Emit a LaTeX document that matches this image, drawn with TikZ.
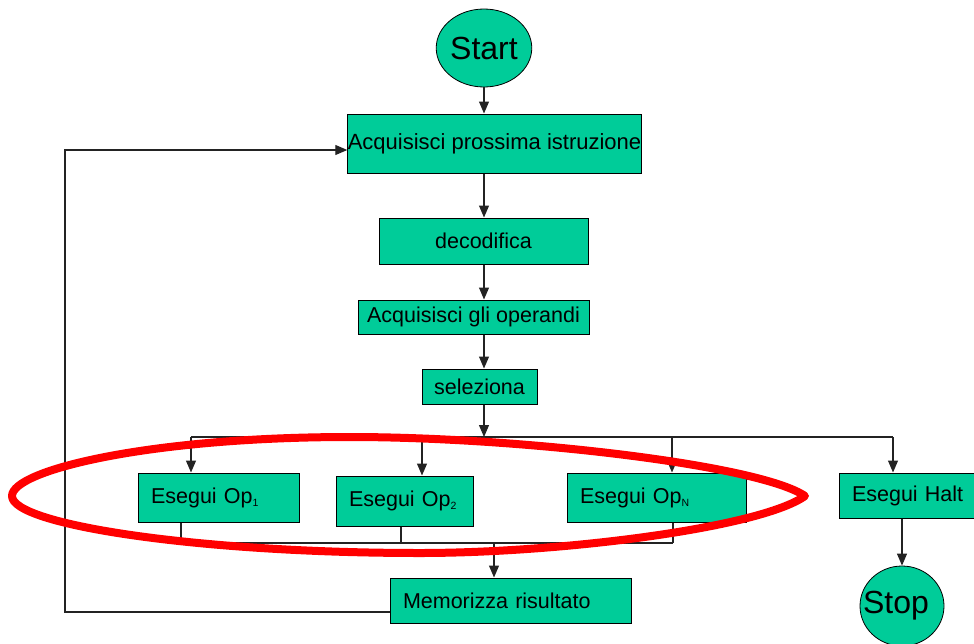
\documentclass[tikz,border=0pt]{standalone}
\usepackage{fontspec}
\setmainfont{Liberation Sans}
\usetikzlibrary{arrows.meta,shapes.geometric}
\definecolor{boxgreen}{RGB}{0,204,153}
\definecolor{linegray}{RGB}{35,35,35}
\newcommand{\opsub}[1]{\raisebox{-3pt}{\fontsize{10.5}{10.5}\selectfont #1}}
\begin{document}
\begin{tikzpicture}[x=1pt,y=-1pt,
  stepbox/.style={draw=black,line width=1pt,fill=boxgreen,inner sep=0pt,
    font=\fontsize{21.5}{24}\selectfont},
  leftbox/.style={stepbox,minimum width=#1,text width=#1-26pt,align=left},
  terminal/.style={ellipse,draw=black,line width=0.8pt,fill=boxgreen,inner sep=0pt,
    font=\fontsize{32}{36}\selectfont},
  flow/.style={draw=linegray,line width=1.1pt},
  arr/.style={flow,-{Triangle[length=12pt,width=10pt]}},
]
\useasboundingbox (0,0) rectangle (974,643);

% main column
\node[terminal,minimum width=82,minimum height=78] (start) at (484,48) {Start};
\node[stepbox,minimum width=293,minimum height=59,font=\fontsize{22}{24}\selectfont] (acq) at (494.5,143.5) {Acquisisci prossima istruzione};
\node[stepbox,minimum width=209,minimum height=46] (dec) at (483.5,241) {decodifica};
\node[stepbox,minimum width=231,minimum height=34] (ops) at (473.5,317) {Acquisisci gli operandi};
\node[stepbox,minimum width=115,minimum height=35] (sel) at (479.5,386.5) {seleziona};

% operation branches
\node[leftbox=161pt,minimum height=49] (op1) at (218.5,497.5) {Esegui Op\opsub{1}};
\node[leftbox=137pt,minimum height=50] (op2) at (404.5,501) {Esegui Op\opsub{2}};
\node[leftbox=179pt,minimum height=49] (opn) at (656.5,497.5) {Esegui Op\opsub{N}};
\node[leftbox=140pt,minimum height=45] (halt) at (909,495.5) {Esegui Halt};
\node[terminal,minimum width=84,minimum height=80] (stop) at (902,606) {\hspace*{-12pt}Stop};
\node[leftbox=241pt,minimum height=45] (mem) at (510.5,600.5) {Memorizza risultato};

% routing points
\coordinate (spine) at (484,0);
\coordinate (brL) at (191,437);
\coordinate (br2) at (422,437);
\coordinate (brN) at (672,437);
\coordinate (brR) at (893,437);
\coordinate (m1) at (181,543);
\coordinate (m2) at (401,543);
\coordinate (mN) at (673,543);
\coordinate (mj) at (494,543);
\coordinate (lpA) at (65,612);
\coordinate (lpB) at (65,150);

% vertical flow
\draw[arr] (start.south) -- (start.south |- acq.north);
\draw[arr] (spine |- acq.south) -- (spine |- dec.north);
\draw[arr] (spine |- dec.south) -- (spine |- ops.north);
\draw[arr] (spine |- ops.south) -- (spine |- sel.north);
\draw[arr] (spine |- sel.south) -- (spine |- brL);

% fan-out to the operations
\draw[flow] (brL) -- (brR);
\draw[arr] (brL) -- (brL |- op1.north);
\draw[arr] (br2) -- (br2 |- op2.north);
\draw[arr] (brN) -- (brN |- opn.north);
\draw[arr] (brR) -- (brR |- halt.north);
\draw[arr] (stop.north |- halt.south) -- (stop.north);

% merge into the result
\draw[flow] (m1 |- op1.south) -- (m1);
\draw[flow] (m2 |- op2.south) -- (m2);
\draw[flow] (mN |- opn.south) -- (mN);
\draw[flow] (m1) -- (mN);
\draw[arr] (mj) -- (mj |- mem.north);

% loop back to the fetch step
\draw[arr] (mem.west |- lpA) -- (lpA) -- (lpB) -- (lpB -| acq.west);

% hand-drawn highlight around the operations
\draw[red,line width=8pt,line join=round]
  (12,496) .. controls (12,470) and (150,437) .. (350,437)
           .. controls (520,437) and (760,465) .. (805,496)
           .. controls (760,528) and (560,553) .. (420,553)
           .. controls (200,553) and (12,525) .. (12,496) -- cycle;
\end{tikzpicture}
\end{document}
